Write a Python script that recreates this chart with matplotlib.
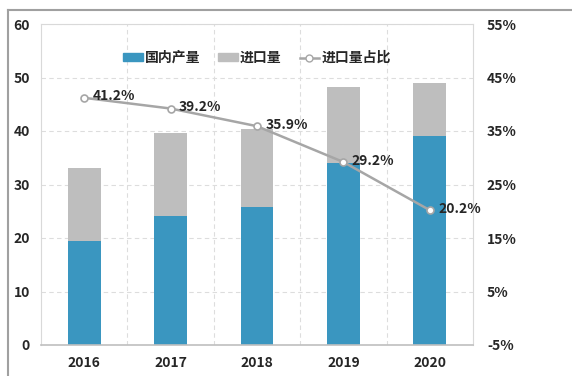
import numpy as np
import matplotlib.pyplot as plt
from matplotlib.lines import Line2D

plt.rcParams['font.family'] = ['Noto Sans CJK SC', 'DejaVu Sans']

# 数据
years = ['2016', '2017', '2018', '2019', '2020']
domestic = [19.4, 24.1, 25.8, 34.1, 39.1]   # 国内产量
imports = [13.6, 15.5, 14.5, 14.1, 9.9]     # 进口量
share = [41.2, 39.2, 35.9, 29.2, 20.2]      # 进口量占比 (%)
share_labels = ['41.2%', '39.2%', '35.9%', '29.2%', '20.2%']

blue = '#3A96C0'
gray = '#BEBEBE'
line_gray = '#A6A6A6'
txt = '#262626'

fig = plt.figure(figsize=(5.72, 3.76), dpi=100)
ax = fig.add_axes([41 / 572, 1 - 345 / 376, 432 / 572, 321 / 376])

x = np.arange(len(years))
w = 0.38
ax.bar(x, domestic, w, color=blue, label='国内产量', zorder=2)
ax.bar(x, imports, w, bottom=domestic, color=gray, label='进口量', zorder=2)

ax.set_xlim(-0.5, 4.5)
ax.set_ylim(0, 60)
ax.set_yticks(range(0, 61, 10))
ax.set_xticks(x)
ax.set_xticklabels(years)
ax.set_xticks(np.arange(0.5, 4.5, 1), minor=True)
ax.grid(axis='y', linestyle=(0, (4, 3)), color='#DDDDDD', linewidth=0.8, zorder=0)
ax.grid(axis='x', which='minor', linestyle=(0, (4, 3)), color='#DDDDDD', linewidth=0.8, zorder=0)
ax.tick_params(axis='both', which='both', length=0)
ax.tick_params(axis='x', pad=8)
ax.tick_params(axis='y', pad=8)
for lab in ax.get_xticklabels() + ax.get_yticklabels():
    lab.set_fontweight('bold')
    lab.set_fontsize(10)
    lab.set_color(txt)
for s in ax.spines.values():
    s.set_color('#D9D9D9')
    s.set_linewidth(0.8)
ax.spines['bottom'].set_color('#BFBFBF')
ax.spines['bottom'].set_linewidth(1.2)

# 右轴 (进口量占比)
ax2 = ax.twinx()
ax2.set_ylim(-5, 55)
ax2.set_yticks(range(-5, 56, 10))
ax2.set_yticklabels([f'{v}%' for v in range(-5, 56, 10)])
ax2.tick_params(axis='y', length=0, pad=10)
for lab in ax2.get_yticklabels():
    lab.set_fontweight('bold')
    lab.set_fontsize(10)
    lab.set_color(txt)
for s in ax2.spines.values():
    s.set_visible(False)

ax2.plot(x, share, color=line_gray, linewidth=1.8, marker='o', markersize=5,
         markerfacecolor='white', markeredgecolor=line_gray, markeredgewidth=1.2, zorder=3)
for xi, v, s in zip(x, share, share_labels):
    ax2.annotate(s, (xi, v), xytext=(6, 1), textcoords='offset points',
                 ha='left', va='center', fontsize=10, fontweight='bold', color=txt)

# 图例
handles = [
    plt.Rectangle((0, 0), 1, 1, color=blue),
    plt.Rectangle((0, 0), 1, 1, color=gray),
    Line2D([], [], color=line_gray, linewidth=1.8, marker='o', markersize=5,
           markerfacecolor='white', markeredgecolor=line_gray),
]
leg = ax.legend(handles, ['国内产量', '进口量', '进口量占比'], loc='upper center',
                bbox_to_anchor=(0.5, 0.955), ncol=3, frameon=False, fontsize=10,
                handlelength=1.4, handleheight=0.5, handletextpad=0.15, columnspacing=1.3)
for t in leg.get_texts():
    t.set_fontweight('bold')
    t.set_color(txt)

# 外框
fig.add_artist(Line2D([8 / 572, 8 / 572], [0, 1 - 10 / 376], color='#A0A0A0', linewidth=1.5))
fig.add_artist(Line2D([8 / 572, 1], [1 - 10 / 376, 1 - 10 / 376], color='#A0A0A0', linewidth=1.5))

fig.savefig('out.png', dpi=100)
